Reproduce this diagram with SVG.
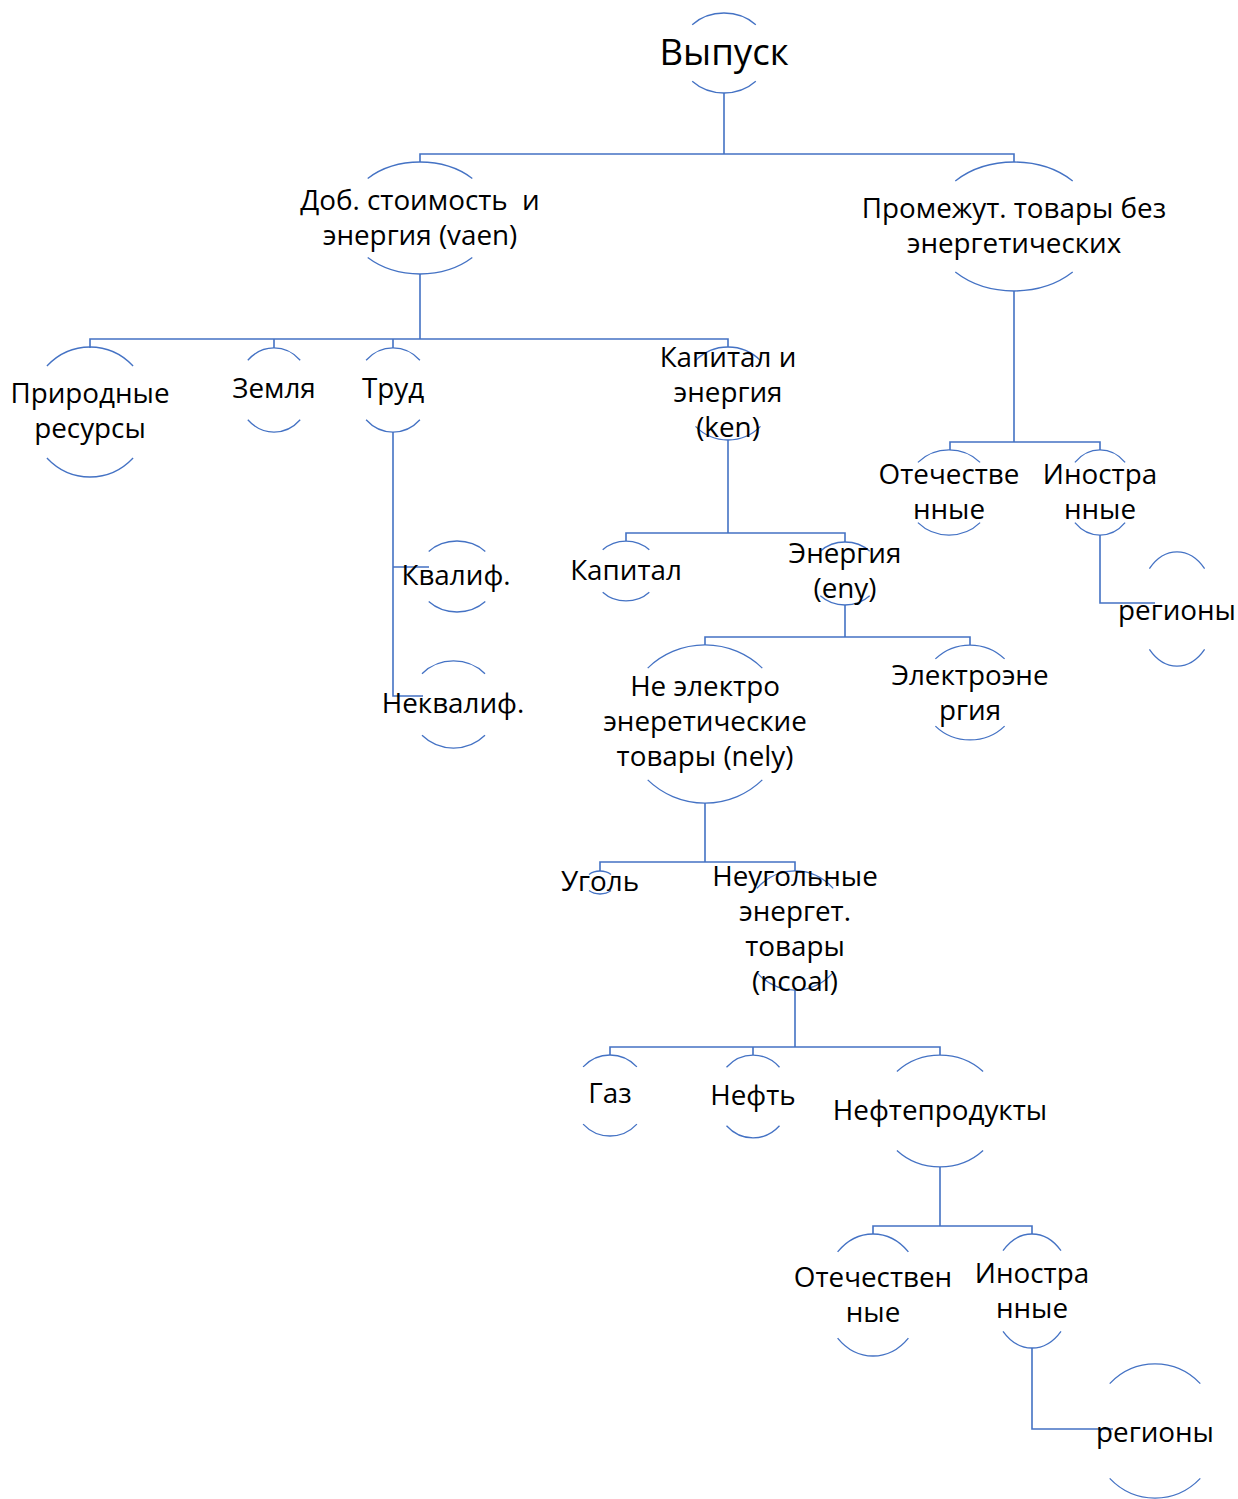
<svg xmlns="http://www.w3.org/2000/svg" width="1238" height="1499" viewBox="0 0 1238 1499">
<style>
.arc{fill:none;stroke:#4472C4;stroke-width:1.3}
.con{fill:none;stroke:#4472C4;stroke-width:1.6}
text{font-family:"Open Sans","Noto Sans","DejaVu Sans",sans-serif;font-size:27.8px;fill:#000;text-anchor:middle;white-space:pre}
.big{font-size:36.6px}
</style>
<rect width="1238" height="1499" fill="#fff"/>
<g id="connectors">
<path class="con" d="M724 93 V154 M420 162 V154 H1014 V162"/>
<path class="con" d="M420 274 V339 M90 348 V339 H728 V347 M274 348 V339 M393 348 V339"/>
<path class="con" d="M393 432 V696 H423 M393 567 H429"/>
<path class="con" d="M728 440 V533 M626 541 V533 H845 V542"/>
<path class="con" d="M845 605 V637 M705 645 V637 H970 V645"/>
<path class="con" d="M705 803 V862 M600 871 V862 H795 V871"/>
<path class="con" d="M795 990 V1047 M610 1055 V1047 H940 V1055 M753 1055 V1047"/>
<path class="con" d="M940 1167 V1226 M873 1234 V1226 H1032 V1234"/>
<path class="con" d="M1032 1348 V1429 H1113"/>
<path class="con" d="M1014 291 V442 M950 450 V442 H1100 V450"/>
<path class="con" d="M1100 535 V603 H1155"/>
</g>
<g id="n-vypusk">
<path class="arc" d="M692.2 24.7 A45 40 0 0 1 755.8 24.7 M692.2 81.3 A45 40 0 0 0 755.8 81.3"/>
<text class="big" x="724" y="65">Выпуск</text>
</g>
<g id="n-vaen">
<path class="arc" d="M367.7 178.4 A74 56 0 0 1 472.3 178.4 M367.7 257.6 A74 56 0 0 0 472.3 257.6"/>
<text x="420" y="210" xml:space="preserve">Доб. стоимость  и</text>
<text x="420" y="245">энергия (vaen)</text>
</g>
<g id="n-interm">
<path class="arc" d="M955.3 180.9 A83 64.5 0 0 1 1072.7 180.9 M955.3 272.1 A83 64.5 0 0 0 1072.7 272.1"/>
<text x="1014" y="218">Промежут. товары без</text>
<text x="1014" y="253">энергетических</text>
</g>
<g id="n-natres">
<path class="arc" d="M46.9 366 A61 65 0 0 1 133.1 366 M46.9 458 A61 65 0 0 0 133.1 458"/>
<text x="90" y="403">Природные</text>
<text x="90" y="438">ресурсы</text>
</g>
<g id="n-land">
<path class="arc" d="M247.8 360.3 A37 42 0 0 1 300.2 360.3 M247.8 419.7 A37 42 0 0 0 300.2 419.7"/>
<text x="274" y="398">Земля</text>
</g>
<g id="n-labor">
<path class="arc" d="M366.1 360.3 A38 42 0 0 1 419.9 360.3 M366.1 419.7 A38 42 0 0 0 419.9 419.7"/>
<text x="393" y="398">Труд</text>
</g>
<g id="n-ken">
<path class="arc" d="M695.5 360.6 A46 46.5 0 0 1 760.5 360.6 M695.5 426.4 A46 46.5 0 0 0 760.5 426.4"/>
<text x="728" y="367">Капитал и</text>
<text x="728" y="402">энергия</text>
<text x="728" y="437">(ken)</text>
</g>
<g id="n-skilled">
<path class="arc" d="M428.7 551.4 A40 35.5 0 0 1 485.3 551.4 M428.7 601.6 A40 35.5 0 0 0 485.3 601.6"/>
<text x="456" y="585">Квалиф.</text>
</g>
<g id="n-unskilled">
<path class="arc" d="M422 673.7 A44.5 43.5 0 0 1 485 673.7 M422 735.3 A44.5 43.5 0 0 0 485 735.3"/>
<text x="453" y="713">Неквалиф.</text>
</g>
<g id="n-capital">
<path class="arc" d="M602.7 549.8 A33 30 0 0 1 649.3 549.8 M602.7 592.2 A33 30 0 0 0 649.3 592.2"/>
<text x="626" y="580">Капитал</text>
</g>
<g id="n-eny">
<path class="arc" d="M820.3 551.2 A35 31.5 0 0 1 869.7 551.2 M820.3 595.8 A35 31.5 0 0 0 869.7 595.8"/>
<text x="845" y="563">Энергия</text>
<text x="845" y="598">(eny)</text>
</g>
<g id="n-nely">
<path class="arc" d="M647.7 668.1 A81 79 0 0 1 762.3 668.1 M647.7 779.9 A81 79 0 0 0 762.3 779.9"/>
<text x="705" y="696">Не электро</text>
<text x="705" y="731">энеретические</text>
<text x="705" y="766">товары (nely)</text>
</g>
<g id="n-ely">
<path class="arc" d="M935.4 658.9 A49 47.5 0 0 1 1004.6 658.9 M935.4 726.1 A49 47.5 0 0 0 1004.6 726.1"/>
<text x="970" y="685">Электроэне</text>
<text x="970" y="720">ргия</text>
</g>
<g id="n-coal">
<path class="arc" d="M589 874.4 A15.5 11.5 0 0 1 611 874.4 M589 890.6 A15.5 11.5 0 0 0 611 890.6"/>
<text x="600" y="891">Уголь</text>
</g>
<g id="n-ncoal">
<path class="arc" d="M756.8 888.4 A54 59.5 0 0 1 833.2 888.4 M756.8 972.6 A54 59.5 0 0 0 833.2 972.6"/>
<text x="795" y="886">Неугольные</text>
<text x="795" y="921">энергет.</text>
<text x="795" y="956">товары</text>
<text x="795" y="991">(ncoal)</text>
</g>
<g id="n-gas">
<path class="arc" d="M583.1 1066.9 A38 40.5 0 0 1 636.9 1066.9 M583.1 1124.1 A38 40.5 0 0 0 636.9 1124.1"/>
<text x="610" y="1103">Газ</text>
</g>
<g id="n-oil">
<path class="arc" d="M726.5 1067.2 A37.5 41.5 0 0 1 779.5 1067.2 M726.5 1125.8 A37.5 41.5 0 0 0 779.5 1125.8"/>
<text x="753" y="1105">Нефть</text>
</g>
<g id="n-oilprod">
<path class="arc" d="M896.9 1071.4 A61 56 0 0 1 983.1 1071.4 M896.9 1150.6 A61 56 0 0 0 983.1 1150.6"/>
<text x="940" y="1120">Нефтепродукты</text>
</g>
<g id="n-dom2">
<path class="arc" d="M837.6 1251.9 A50 61 0 0 1 908.4 1251.9 M837.6 1338.1 A50 61 0 0 0 908.4 1338.1"/>
<text x="873" y="1287">Отечествен</text>
<text x="873" y="1322">ные</text>
</g>
<g id="n-for2">
<path class="arc" d="M1003 1250.7 A41 57 0 0 1 1061 1250.7 M1003 1331.3 A41 57 0 0 0 1061 1331.3"/>
<text x="1032" y="1283">Иностра</text>
<text x="1032" y="1318">нные</text>
</g>
<g id="n-reg2">
<path class="arc" d="M1109.7 1383.6 A64 67 0 0 1 1200.3 1383.6 M1109.7 1478.4 A64 67 0 0 0 1200.3 1478.4"/>
<text x="1155" y="1442">регионы</text>
</g>
<g id="n-dom1">
<path class="arc" d="M917.9 462.4 A44 42.5 0 0 1 980.1 462.4 M917.9 522.6 A44 42.5 0 0 0 980.1 522.6"/>
<text x="949" y="484">Отечестве</text>
<text x="949" y="519">нные</text>
</g>
<g id="n-for1">
<path class="arc" d="M1074.9 462.4 A35.5 42.5 0 0 1 1125.1 462.4 M1074.9 522.6 A35.5 42.5 0 0 0 1125.1 522.6"/>
<text x="1100" y="484">Иностра</text>
<text x="1100" y="519">нные</text>
</g>
<g id="n-reg1">
<path class="arc" d="M1149.4 568.7 A39 57 0 0 1 1204.6 568.7 M1149.4 649.3 A39 57 0 0 0 1204.6 649.3"/>
<text x="1177" y="620">регионы</text>
</g>
</svg>
